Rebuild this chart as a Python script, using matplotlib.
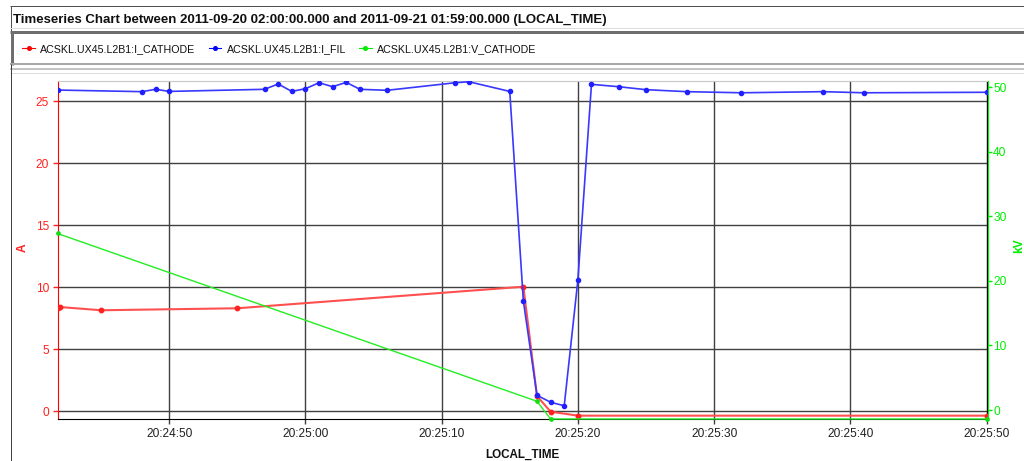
import matplotlib
matplotlib.use("Agg")
import matplotlib.pyplot as plt
import matplotlib.dates as mdates
from matplotlib.lines import Line2D
import pandas as pd

plt.rcParams['font.family'] = ['Liberation Sans', 'DejaVu Sans']

# ---------------- data ----------------
DAY = "2011-09-20"
TITLE = "Timeseries Chart between 2011-09-20 02:00:00.000 and 2011-09-21 01:59:00.000 (LOCAL_TIME)"
SERIES = ["ACSKL.UX45.L2B1:I_CATHODE", "ACSKL.UX45.L2B1:I_FIL", "ACSKL.UX45.L2B1:V_CATHODE"]
X_LABEL = "LOCAL_TIME"
LEFT_LABEL = "A"
RIGHT_LABEL = "kV"

cathode_i_times = ["20:24:41.8", "20:24:42", "20:24:45", "20:24:55", "20:25:16",
                   "20:25:17", "20:25:18", "20:25:20", "20:25:50"]
cathode_i_values = [8.31, 8.41, 8.15, 8.31, 10.05, 1.23, -0.03, -0.35, -0.35]

fil_times = ["20:24:41.8", "20:24:48", "20:24:49", "20:24:50", "20:24:57", "20:24:58",
             "20:24:59", "20:25:00", "20:25:01", "20:25:02", "20:25:03", "20:25:04",
             "20:25:06", "20:25:11", "20:25:12", "20:25:15", "20:25:16", "20:25:17",
             "20:25:18", "20:25:19", "20:25:20", "20:25:21", "20:25:23", "20:25:25",
             "20:25:28", "20:25:32", "20:25:38", "20:25:41", "20:25:50"]
fil_values = [25.91, 25.78, 25.97, 25.80, 25.97, 26.40, 25.80, 26.02, 26.50, 26.18,
              26.53, 25.97, 25.89, 26.50, 26.58, 25.80, 8.90, 1.29, 0.73, 0.45,
              10.56, 26.37, 26.18, 25.94, 25.78, 25.69, 25.78, 25.69, 25.73]

cathode_v_times = ["20:24:41.8", "20:25:17", "20:25:18", "20:25:50"]
cathode_v_values = [27.35, 1.35, -1.39, -1.39]

left_ticks = [0, 5, 10, 15, 20, 25]
right_ticks = [0, 10, 20, 30, 40, 50]


def to_dt(times):
    return pd.to_datetime([DAY + " " + t for t in times], format="mixed").to_pydatetime()


t_ci = to_dt(cathode_i_times)
t_fil = to_dt(fil_times)
t_cv = to_dt(cathode_v_times)

# ---------------- figure / layout ----------------
W, H = 1024, 461
fig = plt.figure(figsize=(W / 100, H / 100), dpi=100)
fig.patch.set_facecolor("white")


def fx(x):
    return x / W


def fy(y):
    return 1 - y / H


def hline(y, x0, x1, color, lw_px):
    fig.add_artist(Line2D([fx(x0), fx(x1)], [fy(y), fy(y)], transform=fig.transFigure,
                          color=color, lw=lw_px * 0.72, solid_capstyle="butt"))


def vline(x, y0, y1, color, lw_px):
    fig.add_artist(Line2D([fx(x), fx(x)], [fy(y0), fy(y1)], transform=fig.transFigure,
                          color=color, lw=lw_px * 0.72, solid_capstyle="butt"))


# title panel
hline(6.5, 10, 1024, "#505050", 1)
vline(10.5, 6, 31, "#505050", 1)
hline(28.5, 10, 1024, "#dcdcdc", 1)
fig.text(fx(12.7), fy(22.7), TITLE, ha="left", va="baseline", fontsize=9.5,
         fontweight="bold", color="#101010")

# legend panel
hline(32.5, 10, 1024, "#6e6e6e", 3)
vline(11.5, 31, 65, "#6e6e6e", 3)
hline(64.5, 10, 1024, "#a8a8a8", 2)
hline(69.5, 10, 1024, "#c4c4c4", 2)
hline(73, 10, 1024, "#dcdcdc", 1)
vline(10.5, 64, 461, "#404040", 1)

leg_colors = ["#ff0000", "#0000ff", "#00ee00"]
leg_handles = [(22.2, 35.2, 40.2), (208.6, 221.2, 226.6), (359.0, 371.5, 377.0)]
for name, col, (x0, x1, xt) in zip(SERIES, leg_colors, leg_handles):
    fig.add_artist(Line2D([fx(x0), fx(x1)], [fy(48.3), fy(48.3)], transform=fig.transFigure,
                          color=col, lw=0.8))
    fig.add_artist(Line2D([fx((x0 + x1) / 2)], [fy(48.3)], transform=fig.transFigure,
                          color=col, marker="o", ms=2.6, lw=0))
    fig.text(fx(xt), fy(52.3), name, ha="left", va="baseline", fontsize=7.7, color="#101010")

# ---------------- axes ----------------
ax = fig.add_axes([fx(57.5), fy(419), (986.5 - 57.5) / W, (419 - 81) / H])
ax.set_facecolor("white")
ax2 = ax.twinx()

ax.set_xlim(t_fil[0], t_fil[-1])
ax.set_ylim(-0.62, 26.64)
ax2.set_ylim(-1.394, 50.98)

ax.plot(t_ci, cathode_i_values, color="#ff5050", lw=1.5, marker="o", ms=3.2,
        mfc="#ff2020", mec="#ff2020", zorder=3)
ax.plot(t_fil, fil_values, color="#3838ff", lw=1.2, marker="o", ms=3.0,
        mfc="#2020ff", mec="#2020ff", zorder=4)
ax2.plot(t_cv, cathode_v_values, color="#22ee22", lw=1.0, marker="o", ms=2.4,
         mfc="#11dd11", mec="#11dd11", zorder=3, clip_on=False)

# grid
ax.set_yticks(left_ticks)
ax2.set_yticks(right_ticks)
ax.xaxis.set_major_locator(mdates.SecondLocator(bysecond=range(0, 60, 10)))
ax.xaxis.set_major_formatter(mdates.DateFormatter("%H:%M:%S"))
ax.grid(True, color="#404040", lw=1.0)
ax.set_axisbelow(True)

# spines
ax.spines["left"].set_color("#ff0000")
ax.spines["top"].set_color("#c8c8c8")
ax.spines["bottom"].set_color("#000000")
ax.spines["right"].set_color("#000000")
for s in ["left", "top", "bottom"]:
    ax2.spines[s].set_visible(False)
ax2.spines["right"].set_color("#00ee00")
ax2.spines["right"].set_position(("outward", 1))

ax.tick_params(axis="y", colors="#ff2020", length=3.6, width=1, labelsize=8.6, pad=2.5)
ax.tick_params(axis="x", color="#404040", labelcolor="#202020", length=3.6, width=1,
               labelsize=8.6, pad=3)
ax2.tick_params(axis="y", colors="#00ee00", length=2.8, width=1, labelsize=8.6, pad=1)

# axis labels
ax.set_xlabel(X_LABEL, fontsize=8.4, fontweight="bold", color="#101010")
ax.xaxis.set_label_coords(0.5, (419 - 457.5) / 338)
ax.xaxis.label.set(va="baseline", ha="center")

ax.set_ylabel(LEFT_LABEL, fontsize=8.6, fontweight="bold", color="#ff2020")
ax.yaxis.set_label_coords((22.8 - 57.5) / 929, (419 - 247.5) / 338)
ax.yaxis.label.set(va="center", ha="center", rotation_mode="default")

ax2.set_ylabel(RIGHT_LABEL, fontsize=8.6, fontweight="bold", color="#00ee00")
ax2.yaxis.set_label_coords((1019.5 - 57.5) / 929, (419 - 245.8) / 338)
ax2.yaxis.label.set(va="center", ha="center", rotation=90, rotation_mode="default")

fig.savefig("out.png", dpi=100, facecolor="white")
